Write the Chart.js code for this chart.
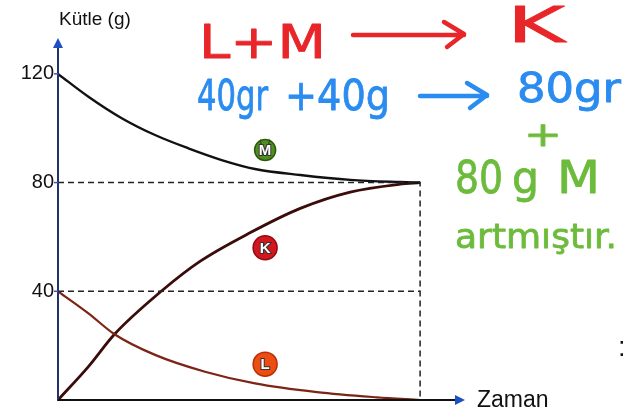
<!DOCTYPE html>
<html>
<head>
<meta charset="utf-8">
<script src="https://cdn.jsdelivr.net/npm/chart.js@4"></script>
<style>
  body { margin: 0; background: #fff; }
  canvas { display: block; }
</style>
</head>
<body>
<canvas id="myChart" width="623" height="412"></canvas>
<script>
// values (time in arbitrary units, dashed end at t = 10)
const mTime = [0, 0.84, 1.76, 2.68, 3.6, 4.52, 5.44, 6.69, 8.07, 9.45, 10];
const mMass = [120, 111.6, 103.7, 97.5, 92.6, 88.3, 85, 82.8, 81, 80.2, 80];

const kTime = [0, 0.84, 1.56, 2.85, 3.92, 5.3, 6.69, 8.07, 9.45, 10];
const kMass = [0, 12.3, 24.2, 40, 51, 61.5, 70.5, 76.5, 79.4, 80];

const lTime = [0, 0.84, 1.56, 2.68, 4.06, 5.44, 7.15, 8.8, 10];
const lMass = [40, 31.9, 24.2, 16.6, 10.4, 6.1, 2.9, 1, 0];

const yTicks = [40, 80, 120];
const endTime = 10;
const guideLevels = [80, 40];

const badgeNames = ['M', 'K', 'L'];
const badgeTime = [5.72, 5.72, 5.72];
const badgeMass = [92, 56, 13.2];

const toPoints = (xs, ys) => xs.map((x, i) => ({ x: x, y: ys[i] }));

const curve = (label, xs, ys, color, width) => ({
  label: label,
  data: toPoints(xs, ys),
  borderColor: color,
  borderWidth: width,
  pointRadius: 0,
  cubicInterpolationMode: 'monotone',
  fill: false,
});

const guide = (pts) => ({
  data: pts,
  borderColor: '#222',
  borderWidth: 1.5,
  borderDash: [6, 4],
  pointRadius: 0,
  tension: 0,
  fill: false,
});

const arrowHead = (ctx, x, y, dir, size, color) => {
  ctx.save();
  ctx.fillStyle = color;
  ctx.beginPath();
  if (dir === 'up') {
    ctx.moveTo(x, y);
    ctx.lineTo(x - size / 2, y + size);
    ctx.lineTo(x + size / 2, y + size);
  } else {
    ctx.moveTo(x, y);
    ctx.lineTo(x - size, y - size / 2);
    ctx.lineTo(x - size, y + size / 2);
  }
  ctx.closePath();
  ctx.fill();
  ctx.restore();
};

// draws text squeezed/stretched to a given width
const fitText = (ctx, str, x, base, width, size, color) => {
  ctx.save();
  ctx.font = size + 'px "DejaVu Sans"';
  ctx.fillStyle = color;
  ctx.strokeStyle = color;
  ctx.lineWidth = 0.8;
  ctx.lineJoin = 'round';
  ctx.textBaseline = 'alphabetic';
  const w = ctx.measureText(str).width;
  ctx.translate(x, base);
  ctx.scale(width / w, 1);
  ctx.fillText(str, 0, 0);
  ctx.strokeText(str, 0, 0);
  ctx.restore();
};

const handArrow = (ctx, x1, x2, y, color) => {
  ctx.save();
  ctx.strokeStyle = color;
  ctx.lineWidth = 4.5;
  ctx.lineCap = 'round';
  ctx.lineJoin = 'round';
  ctx.beginPath();
  ctx.moveTo(x1, y);
  ctx.lineTo(x2, y);
  ctx.moveTo(x2 - 20, y - 13);
  ctx.lineTo(x2, y - 1);
  ctx.lineTo(x2 - 17, y + 12);
  ctx.stroke();
  ctx.restore();
};

const extras = {
  id: 'extras',
  afterDatasetsDraw(chart) {
    const ctx = chart.ctx;
    const xs = chart.scales.x;
    const ys = chart.scales.y;
    const x0 = xs.getPixelForValue(0);
    const y0 = ys.getPixelForValue(0);
    const area = chart.chartArea;

    ctx.save();
    // y axis
    ctx.strokeStyle = '#25306a';
    ctx.lineWidth = 2;
    ctx.beginPath();
    ctx.moveTo(x0, y0 + 1);
    ctx.lineTo(x0, area.top + 8);
    ctx.stroke();
    arrowHead(ctx, x0, area.top, 'up', 10, '#1f4fc0');
    // small ticks
    ctx.strokeStyle = '#3355bb';
    ctx.lineWidth = 1.5;
    yTicks.forEach((v) => {
      const py = ys.getPixelForValue(v);
      ctx.beginPath();
      ctx.moveTo(x0 - 4, py);
      ctx.lineTo(x0, py);
      ctx.stroke();
    });
    // x axis
    ctx.strokeStyle = '#111';
    ctx.lineWidth = 2.2;
    ctx.beginPath();
    ctx.moveTo(x0, y0);
    ctx.lineTo(area.right - 8, y0);
    ctx.stroke();
    arrowHead(ctx, area.right, y0, 'right', 10, '#1f4fc0');

    // axis titles
    ctx.fillStyle = '#111';
    ctx.font = '19px "Liberation Sans"';
    ctx.textBaseline = 'middle';
    ctx.textAlign = 'left';
    ctx.fillText('Kütle (g)', 59, 20);
    ctx.font = '23px "Liberation Sans"';
    ctx.fillText('Zaman', 477, y0 + 1);

    // badges
    const fills = { M: '#4e8f1e', K: '#d4161d', L: '#ef4c14' };
    const rims = { M: '#2d5a0e', K: '#8e0d10', L: '#b53206' };
    badgeNames.forEach((n, i) => {
      const bx = xs.getPixelForValue(badgeTime[i]);
      const by = ys.getPixelForValue(badgeMass[i]);
      const r = n === 'M' ? 10.5 : 12;
      ctx.beginPath();
      ctx.arc(bx, by, r, 0, Math.PI * 2);
      ctx.fillStyle = fills[n];
      ctx.fill();
      ctx.lineWidth = 1.5;
      ctx.strokeStyle = rims[n];
      ctx.stroke();
      ctx.font = 'bold 15px "Liberation Sans"';
      ctx.textAlign = 'center';
      ctx.textBaseline = 'middle';
      ctx.lineWidth = 2;
      ctx.strokeStyle = '#333';
      ctx.strokeText(n, bx, by + 1);
      ctx.fillStyle = '#fff';
      ctx.fillText(n, bx, by + 1);
    });
    ctx.restore();

    // handwritten notes
    const red = '#e8262a';
    const blue = '#2a8cf0';
    const green = '#6dbb3c';
    fitText(ctx, 'L+M', 199, 58, 127, 46, red);
    handArrow(ctx, 353, 464, 35, red);
    fitText(ctx, 'K', 507, 42, 58, 50, red);

    fitText(ctx, '40gr', 197, 110, 71, 42, blue);
    fitText(ctx, '+40g', 285, 110, 105, 42, blue);
    handArrow(ctx, 420, 487, 96, blue);
    fitText(ctx, '80gr', 517, 102, 104, 40, blue);

    fitText(ctx, '+', 524, 146, 38, 34, green);
    fitText(ctx, '80', 455, 193, 48, 44, green);
    fitText(ctx, 'g', 512, 193, 27, 44, green);
    fitText(ctx, 'M', 557, 193, 43, 44, green);
    fitText(ctx, 'artmıştır.', 455, 248, 162, 34, green);

    ctx.save();
    ctx.fillStyle = '#111';
    ctx.font = '28px "Liberation Sans"';
    ctx.textBaseline = 'alphabetic';
    ctx.fillText(':', 618, 356);
    ctx.restore();
  },
};

const draw = () => {
  const data = {
    datasets: [
      guide([{ x: 0, y: guideLevels[0] }, { x: endTime, y: guideLevels[0] }, { x: endTime, y: 0 }]),
      guide([{ x: 0, y: guideLevels[1] }, { x: endTime, y: guideLevels[1] }]),
      curve('L', lTime, lMass, '#7c2415', 2.2),
      curve('M', mTime, mMass, '#111', 2.4),
      curve('K', kTime, kMass, '#3a0c0a', 2.8),
    ],
  };

  const ctx = document.getElementById('myChart').getContext('2d');
  new Chart(ctx, {
    type: 'line',
    data: data,
    plugins: [extras],
    options: {
      responsive: false,
      animation: false,
      layout: { padding: { left: 0, right: 158, top: 38, bottom: 12 } },
      plugins: { legend: { display: false }, tooltip: { enabled: false } },
      scales: {
        x: { type: 'linear', min: 0, max: 11.24, display: false },
        y: {
          type: 'linear',
          min: 0,
          max: 133.2,
          afterFit: (scale) => {
            scale.width = 58;
            scale.paddingTop = 0;
            scale.paddingBottom = 0;
          },
          afterBuildTicks: (scale) => { scale.ticks = yTicks.map((v) => ({ value: v })); },
          grid: { display: false, drawTicks: false },
          border: { display: false },
          ticks: {
            color: '#111',
            padding: 4,
            font: { family: '"Liberation Sans"', size: 20 },
          },
        },
      },
    },
  });
};

window.onload = () => {
  draw();
};
</script>
</body>
</html>
